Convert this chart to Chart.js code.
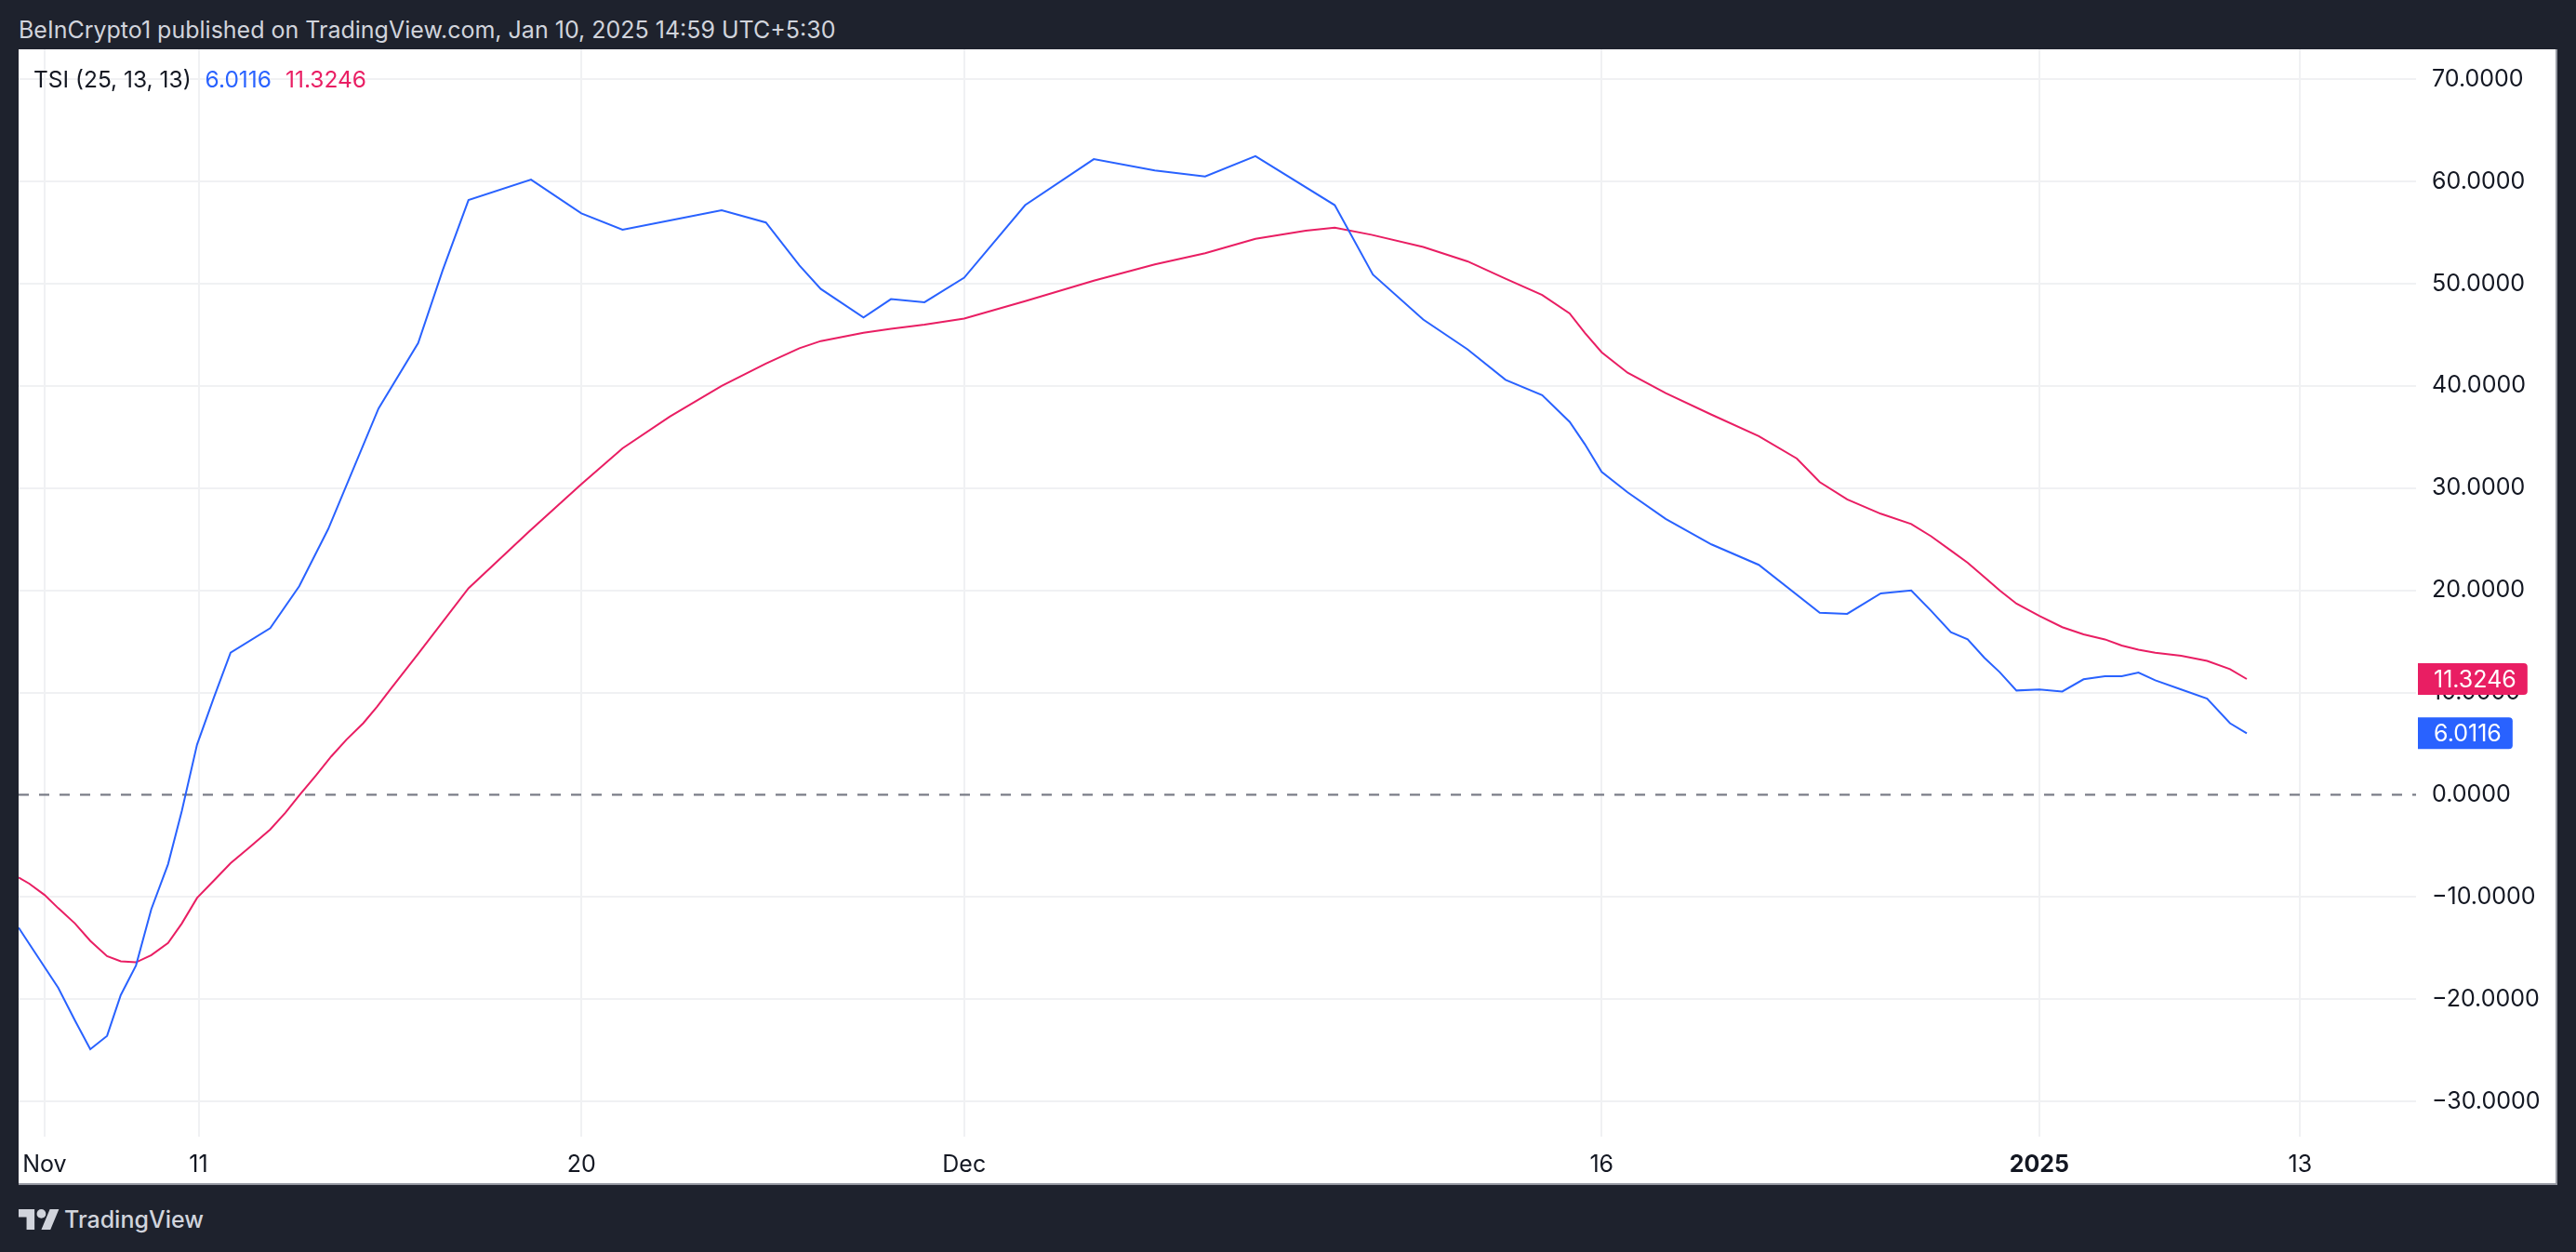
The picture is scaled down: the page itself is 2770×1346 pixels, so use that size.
<!DOCTYPE html>
<html>
<head>
<meta charset="utf-8">
<script src="https://cdn.jsdelivr.net/npm/chart.js@4.4.1/dist/chart.umd.min.js"></script>
<style>
  body { margin: 0; width: 2770px; height: 1346px; background: #1e222d; overflow: hidden; font-family: Inter, Roboto, sans-serif; position: relative; }
  #topline { position: absolute; left: 20px; top: 0; height: 53px; line-height: 64px; font-size: 25px; color: #d1d4dc; white-space: nowrap; }
  #panel { position: absolute; left: 20px; top: 53px; width: 2730px; height: 1221px; background: #fff; border-bottom: 2px solid #9598a1; border-right: 2px solid #9598a1; box-sizing: border-box; }
  #legend { position: absolute; left: 16px; top: 17px; font-size: 24.5px; color: #131722; white-space: nowrap; }
  #legend span { margin-left: 15px; }
  #footer { position: absolute; left: 20px; top: 1296px; height: 30px; display: flex; align-items: center; color: #d1d4dc; font-size: 25px; font-weight: 500; }
  #footer svg { margin-right: 5px; }
</style>
</head>
<body>
<div id="topline">BeInCrypto1 published on TradingView.com, Jan 10, 2025 14:59 UTC+5:30</div>
<div id="panel">
  <canvas id="chart" width="2730" height="1221"></canvas>
  <div id="legend">TSI (25, 13, 13)<span style="color:#2962ff">6.0116</span><span style="color:#e91e63">11.3246</span></div>
</div>
<div id="footer">
  <svg width="44" height="26" viewBox="0 3 36 20"><path fill="#d1d4dc" d="M14 22H7V11H0V4h14v18zM28 22h-8l7.5-18h8L28 22z"/><circle fill="#d1d4dc" cx="20" cy="8" r="4"/></svg>
  TradingView
</div>
<script>
// position along the time axis (bar units) and TSI values
const tsiX = [0, 0.7, 2.6, 3.7, 4.7, 5.8, 6.7, 7.7, 8.7, 9.8, 10.7, 11.7, 12.8, 13.9, 16.5, 18.4, 20.3,
  23.6, 26.2, 27.8, 29.5, 33.6, 36.9, 39.6, 42.7, 46.1, 49.0, 51.2, 52.6, 55.4, 57.2, 59.4, 62.0,
  66.0, 70.5, 74.5, 77.8, 81.1, 86.3, 88.8, 92.1, 95.0, 97.5, 99.9, 101.7, 102.7, 103.8, 105.5,
  108.0, 111.0, 114.1, 118.1, 119.9, 122.1, 124.1, 125.4, 126.7, 127.8, 128.9, 129.9, 131.0,
  132.5, 134.0, 135.4, 136.8, 137.9, 139.0, 140.1, 141.8, 143.5, 145.0, 146.1];
const tsiValues = [-13.0, -14.6, -18.9, -22.1, -24.9, -23.6, -19.6, -16.7, -11.2, -6.8, -1.6, 4.9, 9.5, 13.9, 16.3, 20.4, 26.0,
  37.8, 44.2, 51.3, 58.2, 60.2, 56.9, 55.3, 56.2, 57.2, 56.0, 51.8, 49.5, 46.7, 48.5, 48.2, 50.6,
  57.7, 62.2, 61.1, 60.5, 62.5, 57.7, 50.9, 46.5, 43.6, 40.6, 39.1, 36.5, 34.3, 31.6, 29.6,
  27.0, 24.5, 22.5, 17.8, 17.7, 19.7, 20.0, 18.0, 15.9, 15.2, 13.4, 12.0, 10.2,
  10.3, 10.1, 11.3, 11.6, 11.6, 11.95, 11.2, 10.3, 9.4, 7.0, 6.0116];

const signalX = [0, 0.7, 1.7, 2.6, 3.7, 4.7, 5.8, 6.7, 7.7, 8.7, 9.8, 10.7, 11.7, 12.8, 13.9, 15.1, 16.5,
  17.5, 18.4, 19.5, 20.5, 21.5, 22.6, 23.5, 24.4, 26.2, 29.5, 33.5, 36.9, 39.6, 42.7, 46.1, 49.0,
  51.2, 52.6, 55.4, 57.2, 59.4, 62.0, 66.0, 70.5, 74.5, 77.8, 81.1, 84.4, 86.3, 88.7, 92.1, 95.0,
  97.5, 99.9, 101.7, 102.7, 103.8, 105.5, 108.0, 111.0, 114.1, 116.6, 118.1, 119.9, 122.1, 124.1,
  125.4, 126.7, 127.8, 128.9, 129.9, 131.0, 132.5, 134.0, 135.4, 136.8, 137.9, 139.0, 140.1,
  141.8, 143.5, 145.0, 146.1];
const signalValues = [-8.1, -8.7, -9.8, -11.1, -12.6, -14.3, -15.8, -16.3, -16.4, -15.7, -14.5, -12.6, -10.1, -8.4, -6.7, -5.2, -3.4,
  -1.75, -0.07, 1.9, 3.75, 5.4, 7.0, 8.6, 10.35, 13.8, 20.2, 25.8, 30.4, 33.9, 37.0, 40.0, 42.2,
  43.7, 44.4, 45.2, 45.6, 46.0, 46.6, 48.3, 50.3, 51.9, 53.0, 54.4, 55.2, 55.5, 54.8, 53.6, 52.2,
  50.5, 48.9, 47.1, 45.2, 43.3, 41.3, 39.3, 37.2, 35.1, 32.9, 30.6, 28.9, 27.5, 26.5,
  25.3, 23.9, 22.7, 21.3, 20.0, 18.7, 17.5, 16.4, 15.7, 15.2, 14.6, 14.2, 13.9,
  13.6, 13.1, 12.3, 11.3246];

const xTickPos = [1.7, 11.8, 36.9, 62.0, 103.8, 132.5, 149.6];
const xTickLabels = ['Nov', '11', '20', 'Dec', '16', '2025', '13'];
const yTicks = [-30, -20, -10, 0, 10, 20, 30, 40, 50, 60, 70];
const zeroLevel = 0;

const X_MAX = 157.2;
const FONT = 'Inter, Roboto, sans-serif';
const GRID = '#f0f1f3';

function fmt(v) {
  return (v < 0 ? '\u2212' : '') + Math.abs(v).toFixed(4);
}

function noPadding(s) {
  s.paddingLeft = 0;
  s.paddingRight = 0;
  s.paddingTop = 0;
  s.paddingBottom = 0;
}

// last value labels on the price scale
const lastValuePlugin = {
  id: 'lastValue',
  afterDraw(chart) {
    const ctx = chart.ctx;
    const y = chart.scales.y;
    const left = chart.chartArea.right + 2;
    ctx.save();
    ctx.font = '25px ' + FONT;
    ctx.textBaseline = 'middle';
    [[signalValues[signalValues.length - 1], '#e91e63'], [tsiValues[tsiValues.length - 1], '#2962ff']].forEach(([v, c]) => {
      const text = v.toFixed(4);
      const w = ctx.measureText(text).width + 29;
      const py = y.getPixelForValue(v);
      ctx.fillStyle = c;
      ctx.beginPath();
      ctx.roundRect(left, py - 17, w, 34, [0, 4, 4, 0]);
      ctx.fill();
      ctx.fillStyle = '#ffffff';
      ctx.fillText(text, left + 17, py + 1);
    });
    ctx.restore();
  }
};

new Chart(document.getElementById('chart').getContext('2d'), {
  type: 'line',
  data: {
    datasets: [
      { label: 'TSI', data: tsiX.map((x, i) => ({ x, y: tsiValues[i] })), borderColor: '#2962ff', borderWidth: 2, pointRadius: 0, order: 1 },
      { label: 'Signal', data: signalX.map((x, i) => ({ x, y: signalValues[i] })), borderColor: '#e91e63', borderWidth: 2, pointRadius: 0, order: 2 },
      { label: 'Zero', data: [{ x: 0, y: zeroLevel }, { x: X_MAX, y: zeroLevel }], borderColor: '#787b86', borderWidth: 2.2, borderDash: [11, 11], pointRadius: 0, order: 3 }
    ]
  },
  options: {
    responsive: false,
    maintainAspectRatio: false,
    animation: false,
    layout: { padding: 0 },
    plugins: { legend: { display: false }, tooltip: { enabled: false } },
    scales: {
      x: {
        type: 'linear',
        min: 0,
        max: X_MAX,
        afterFit: s => { s.height = 52; noPadding(s); },
        afterBuildTicks: s => { s.ticks = xTickPos.map(v => ({ value: v })); },
        border: { display: false },
        grid: { color: GRID, lineWidth: 2, drawTicks: false },
        ticks: {
          autoSkip: false,
          maxRotation: 0,
          padding: 15,
          color: '#131722',
          font: c => ({ family: FONT, size: 25, weight: c.tick && c.tick.label === '2025' ? 'bold' : 'normal' }),
          callback: (v, i) => xTickLabels[i]
        }
      },
      y: {
        position: 'right',
        min: -33.46,
        max: 72.95,
        afterFit: s => { s.width = 152; noPadding(s); },
        afterBuildTicks: s => { s.ticks = yTicks.map(v => ({ value: v })); },
        border: { display: false },
        grid: { color: c => (c.tick && c.tick.value === zeroLevel ? 'rgba(0,0,0,0)' : GRID), lineWidth: 2, drawTicks: false },
        ticks: {
          crossAlign: 'near',
          padding: 17,
          color: '#131722',
          font: { family: FONT, size: 25 },
          callback: v => fmt(v)
        }
      }
    }
  },
  plugins: [lastValuePlugin]
});
</script>
</body>
</html>
